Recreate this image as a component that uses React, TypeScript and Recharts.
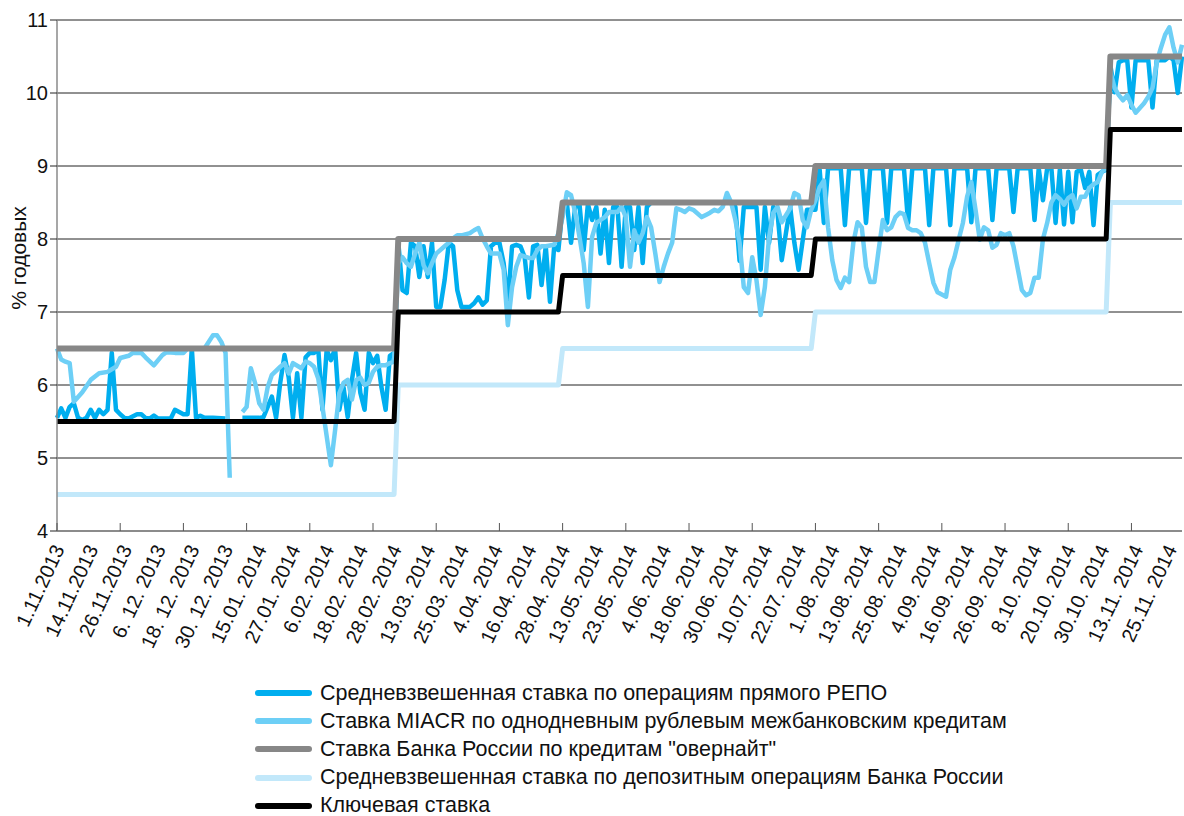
import {CartesianGrid, Line, LineChart, XAxis, YAxis} from "recharts";

// labels shown on every 8th trading day
const dateLabels = [
  "1.11.2013", "14.11.2013", "26.11.2013", "6. 12. 2013", "18. 12. 2013", "30. 12. 2013",
  "15.01. 2014", "27.01. 2014", "6.02. 2014", "18.02. 2014", "28.02. 2014", "13.03. 2014",
  "25.03. 2014", "4.04. 2014", "16.04. 2014", "28.04. 2014", "13.05. 2014", "23.05. 2014",
  "4.06. 2014", "18.06. 2014", "30.06. 2014", "10.07. 2014", "22.07. 2014", "1.08. 2014",
  "13.08. 2014", "25.08. 2014", "4.09. 2014", "16.09. 2014", "26.09. 2014", "8.10. 2014",
  "20.10. 2014", "30.10. 2014", "13.11. 2014", "25.11. 2014",
];
const labelDays = dateLabels.map((_, i) => i * 8);
// small tick marks on the axis line
const markDays = [0, 15, 30, 45, 60, 75, 90, 105, 120, 135, 150, 165, 180, 195, 210, 225, 240, 255];
const rateTicks = [4, 5, 6, 7, 8, 9, 10, 11];
const lastDay = 267;

// [trading day, % per annum]
const repoRate: [number, number | null][] = [
  [0, 5.55], [1, 5.68], [2, 5.55], [3, 5.7], [4, 5.75], [5, 5.55], [6, 5.52], [7, 5.55], [8, 5.66], [9, 5.55],
  [10, 5.66], [11, 5.6], [12, 5.66], [13, 6.44], [14, 5.66], [15, 5.6], [16, 5.55], [17, 5.54], [19, 5.6], [20, 5.6],
  [21, 5.55], [22, 5.54], [23, 5.58], [24, 5.54], [27, 5.54], [28, 5.66], [30, 5.6], [31, 5.6], [32, 6.5], [33, 5.55],
  [34, 5.58], [35, 5.55], [37, 5.55], [40, 5.54], [42, null],
  [44, 5.55], [46, 5.55], [48, 5.55], [49, 5.56], [51, 5.84], [52, 5.55], [53, 6.04], [54, 6.41], [55, 6.1], [56, 5.55],
  [57, 6.16], [58, 5.55], [59, 6.38], [60, 6.44], [61, 6.44], [62, 6.5], [63, 5.66], [64, 6.48], [65, 6.34], [66, 6.5],
  [67, 5.66], [68, 5.97], [69, 5.56], [70, 6.07], [71, 6.44], [72, 5.89], [73, 5.66], [74, 6.44], [75, 6.3], [76, 6.4],
  [77, 5.97], [78, 5.66], [79, 6.4], [80, 6.44],
  [81, 7.95], [82, 7.3], [83, 7.26], [84, 7.95], [85, 7.9], [86, 7.48], [87, 7.9], [88, 7.48], [89, 7.95], [90, 7.07],
  [91, 7.07], [92, 7.44], [93, 7.95], [94, 7.9], [95, 7.3], [96, 7.07], [98, 7.07], [99, 7.12], [100, 7.2], [101, 7.1],
  [102, 7.16], [103, 7.9], [104, 7.95], [105, 7.95], [106, 7.67], [107, 7.12], [108, 7.9], [109, 7.92], [110, 7.9],
  [111, 7.75], [112, 7.2], [113, 7.9], [114, 7.92], [115, 7.37], [116, 7.9], [117, 7.14], [118, 7.9], [119, 7.85],
  [120, 8.44], [121, 8.5], [122, 7.95], [123, 8.44], [124, 8.48], [125, 7.85], [126, 8.48], [127, 8.26], [128, 8.44],
  [129, 7.8], [130, 8.4], [131, 7.67], [132, 8.44], [133, 8.44], [134, 7.62], [135, 8.44], [136, 8.44], [137, 7.85],
  [138, 8.44], [139, 7.67], [140, 8.44], [141, 8.5], [160, 8.5], [161, 8.44], [162, 7.7], [163, 8.44], [166, 8.44],
  [167, 7.58], [168, 8.44], [169, 7.95], [170, 8.44], [171, 8.36], [172, 7.71], [173, 8.08], [174, 8.44], [175, 7.95],
  [176, 7.58], [177, 7.99], [178, 8.4], [179, 8.4],
  [180, 8.4], [181, 8.95], [182, 8.22], [183, 8.97], [186, 8.97], [187, 8.19], [188, 8.97], [191, 8.97], [192, 8.22],
  [193, 8.97], [196, 8.97], [197, 8.22], [198, 8.97], [201, 8.97], [202, 8.22], [203, 8.97], [206, 8.97], [207, 8.19],
  [208, 8.97], [211, 8.97], [212, 8.19], [213, 8.97], [216, 8.97], [217, 8.23], [218, 8.97], [221, 8.97], [222, 8.26],
  [223, 8.97], [226, 8.97], [227, 8.37], [228, 8.97], [231, 8.97], [232, 8.26], [233, 8.97], [234, 8.53], [235, 8.97],
  [236, 8.97], [237, 8.22], [238, 8.95], [239, 8.2], [240, 8.92], [241, 8.23], [242, 8.92], [243, 8.95], [244, 8.7],
  [245, 8.92], [246, 8.19], [247, 8.88], [248, 8.92], [249, 8.95],
  [250, 10.38], [251, 10.01], [252, 10.42], [253, 10.45], [254, 10.45], [255, 9.8], [256, 10.45], [257, 10.45],
  [258, 10.45], [259, 10.45], [260, 9.8], [261, 10.45], [263, 10.45], [264, 10.5], [265, 10.45], [266, 10.0], [267, 10.5],
];

const miacrRate: [number, number | null][] = [
  [0, 6.5], [1, 6.35], [2, 6.32], [3, 6.3], [4, 5.77], [6, 5.9], [8, 6.07], [10, 6.16], [12, 6.18], [14, 6.25],
  [15, 6.37], [17, 6.4], [18, 6.44], [20, 6.44], [21, 6.38], [23, 6.27], [25, 6.41], [26, 6.45], [28, 6.44], [30, 6.44],
  [31, 6.5], [33, 6.5], [35, 6.5], [37, 6.68], [38, 6.68], [39, 6.59], [40, 6.44], [41, 4.73], [42, null],
  [44, 5.63], [45, 5.7], [46, 6.23], [47, 6.03], [48, 5.75], [49, 5.66], [50, 5.97], [51, 6.14], [53, 6.25], [54, 6.3],
  [55, 6.16], [56, 6.3], [58, 6.23], [59, 6.32], [60, 6.3], [61, 6.25], [62, 6.09], [63, 5.7], [65, 4.9], [66, 5.38],
  [67, 5.89], [68, 6.03], [69, 6.07], [70, 5.8], [71, 6.07], [72, 6.1], [73, 6.0], [74, 6.03], [75, 6.18], [76, 6.25],
  [77, 6.27], [78, 6.27], [79, 6.3], [80, 6.32],
  [81, 7.67], [82, 7.75], [83, 7.67], [84, 7.62], [85, 7.8], [86, 7.95], [87, 7.64], [88, 7.53], [89, 7.67], [90, 7.8],
  [92, 7.9], [93, 7.95], [94, 8.01], [95, 8.05], [96, 8.05], [98, 8.08], [99, 8.12], [100, 8.15], [101, 8.01], [102, 7.9],
  [103, 7.8], [105, 7.8], [106, 7.58], [107, 6.82], [108, 7.34], [109, 7.62], [110, 7.78], [112, 7.74], [113, 7.74],
  [114, 7.85], [115, 7.9], [116, 7.9], [118, 7.92], [119, 8.08],
  [120, 8.3], [121, 8.64], [122, 8.6], [123, 8.36], [124, 8.03], [125, 7.67], [126, 7.07], [127, 8.03], [128, 8.22],
  [129, 8.26], [130, 8.3], [131, 8.37], [133, 8.37], [134, 8.44], [135, 8.3], [136, 7.62], [137, 8.12], [138, 7.95],
  [139, 8.08], [140, 8.3], [141, 8.16], [142, 7.8], [143, 7.41], [144, 7.62], [145, 7.8], [146, 7.95], [147, 8.42],
  [148, 8.4], [149, 8.37], [150, 8.42], [151, 8.4], [153, 8.3], [154, 8.33], [155, 8.36], [156, 8.4], [157, 8.38],
  [158, 8.44], [159, 8.63], [160, 8.5], [161, 8.26], [162, 7.95], [163, 7.34], [164, 7.26], [165, 7.75], [166, 7.44],
  [167, 6.96], [168, 7.34], [169, 8.03], [170, 8.36], [171, 8.44], [172, 8.23], [174, 8.42], [175, 8.63], [176, 8.6],
  [177, 8.26], [178, 8.16], [179, 8.4],
  [180, 8.53], [181, 8.71], [182, 8.8], [183, 8.16], [184, 7.71], [185, 7.44], [186, 7.33], [187, 7.47], [188, 7.41],
  [189, 7.95], [190, 8.23], [191, 8.16], [192, 7.62], [193, 7.41], [194, 7.41], [195, 7.85], [196, 8.26], [197, 8.12],
  [198, 8.16], [199, 8.3], [200, 8.36], [201, 8.34], [202, 8.15], [203, 8.12], [204, 8.12], [205, 8.08], [206, 7.95],
  [207, 7.67], [208, 7.4], [209, 7.27], [211, 7.21], [212, 7.58], [213, 7.75], [214, 7.99], [215, 8.22], [216, 8.58],
  [217, 8.78], [218, 8.4], [219, 7.99], [220, 8.16], [221, 8.12], [222, 7.88], [223, 7.92], [224, 8.08], [225, 8.05],
  [226, 8.08], [227, 7.9], [228, 7.6], [229, 7.3], [230, 7.23], [231, 7.26], [232, 7.47], [233, 7.47], [234, 8.0],
  [235, 8.22], [236, 8.5], [237, 8.6], [238, 8.55], [239, 8.47], [240, 8.56], [241, 8.6], [242, 8.42], [243, 8.58],
  [244, 8.58], [245, 8.7], [246, 8.75], [247, 8.78], [248, 8.92], [249, 8.97],
  [250, 10.29], [251, 10.07], [252, 9.97], [253, 9.9], [254, 9.97], [255, 9.84], [256, 9.73], [258, 9.86], [259, 9.95],
  [260, 10.07], [261, 10.42], [262, 10.62], [263, 10.8], [264, 10.9], [265, 10.62], [266, 10.42], [267, 10.66],
];

// policy rates only change at the steps
const overnightRate: [number, number][] = [
  [0, 6.5], [80, 6.5], [81, 8], [119, 8], [120, 8.5], [179, 8.5], [180, 9], [249, 9], [250, 10.5], [267, 10.5],
];
const depositRate: [number, number][] = [
  [0, 4.5], [80, 4.5], [81, 6], [119, 6], [120, 6.5], [179, 6.5], [180, 7], [249, 7], [250, 8.5], [267, 8.5],
];
const keyRate: [number, number][] = [
  [0, 5.5], [80, 5.5], [81, 7], [119, 7], [120, 7.5], [179, 7.5], [180, 8], [249, 8], [250, 9.5], [267, 9.5],
];

const series = [
  {key: "repo", name: "Средневзвешенная ставка по операциям прямого РЕПО", color: "#00aeef", width: 4.5, points: repoRate},
  {key: "miacr", name: "Ставка MIACR по однодневным рублевым межбанковским кредитам", color: "#6dcff6", width: 4.5, points: miacrRate},
  {key: "overnight", name: "Ставка Банка России по кредитам \"овернайт\"", color: "#878787", width: 6, points: overnightRate},
  {key: "deposit", name: "Средневзвешенная ставка по депозитным операциям Банка России", color: "#c2e8fa", width: 5, points: depositRate},
  {key: "key", name: "Ключевая ставка", color: "#000000", width: 5, points: keyRate},
];

const axisTicks = Array.from(new Set([...labelDays, ...markDays])).sort((a, b) => a - b);

const FONT = "'Liberation Sans', Arial, Helvetica, sans-serif";

function DateTick({x, y, payload}: any) {
  const day = payload.value;
  const idx = labelDays.indexOf(day);
  const ax = x + 8;
  const ay = y + 18;
  return (
    <g>
      {markDays.includes(day) && <line x1={x} x2={x} y1={y} y2={y - 8} stroke="#555" strokeWidth={1}/>}
      {idx >= 0 && (
        <text x={ax} y={ay} transform={`rotate(-65, ${ax}, ${ay})`} textAnchor="end"
              fontSize={20} fontFamily={FONT} fill="#111">
          {dateLabels[idx]}
        </text>
      )}
    </g>
  );
}

function App() {
  return (
    <div style={{position: "absolute", left: 0, top: 0, width: 1184, height: 816, fontFamily: FONT}}>
      <LineChart width={1184} height={816} margin={{top: 20, right: 2, bottom: 0, left: 10}}>
        <CartesianGrid vertical={false} stroke="#222" strokeWidth={1}/>
        <XAxis type="number" dataKey="day" domain={[0, lastDay]} ticks={axisTicks} interval={0}
               height={285} tick={<DateTick/>} tickLine={false} tickSize={0} tickMargin={0}
               axisLine={{stroke: "#8a8a8a", strokeWidth: 1.5}}/>
        <YAxis type="number" domain={[4, 11]} ticks={rateTicks} interval={0} width={47} tickSize={7}
               tick={{fontSize: 20, fill: "#111", fontFamily: FONT}} tickLine={{stroke: "#222"}}
               axisLine={{stroke: "#8a8a8a", strokeWidth: 1.5}}
               label={{
                 content: () => (
                   <text x={26} y={258} transform="rotate(-90, 26, 258)" textAnchor="middle"
                         fontSize={21} fontFamily={FONT} fill="#111">% годовых</text>
                 ),
               }}/>
        {series.map((s) => (
          <Line key={s.key} data={s.points.map(([day, rate]) => ({day, rate}))} dataKey="rate" name={s.name}
                type="linear" stroke={s.color} strokeWidth={s.width} strokeLinejoin="round" dot={false}
                activeDot={false} isAnimationActive={false}/>
        ))}
      </LineChart>
      <div style={{position: "absolute", left: 255, top: 679}}>
        {series.map((s) => (
          <div key={s.key} style={{display: "flex", alignItems: "center", height: 28.2}}>
            <span style={{display: "inline-block", width: 57, height: 6, borderRadius: 3, background: s.color}}/>
            <span style={{marginLeft: 8, fontSize: 21.5, color: "#111", whiteSpace: "nowrap"}}>{s.name}</span>
          </div>
        ))}
      </div>
    </div>
  );
}

export default App;
